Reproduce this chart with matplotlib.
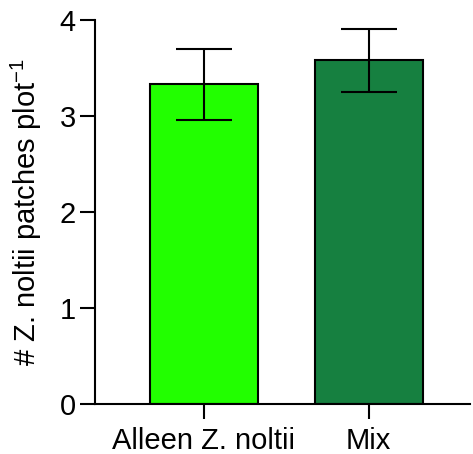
import matplotlib
matplotlib.use('Agg')
import matplotlib.pyplot as plt

plt.rcParams['font.family'] = ['Liberation Sans', 'DejaVu Sans']
plt.rcParams['mathtext.fontset'] = 'custom'
plt.rcParams['mathtext.rm'] = 'Liberation Sans'

groups = ['Alleen Z. noltii', 'Mix']
means = [3.33, 3.58]
errs = [0.37, 0.33]
colors = ['#22ff00', '#168040']

fig = plt.figure(figsize=(4.73, 4.54), dpi=100)
ax = fig.add_axes([95 / 473, 1 - 404 / 454, 375 / 473, 384 / 454])

x = range(len(groups))
ax.bar(x, means, width=0.655, color=colors, edgecolor='black', linewidth=1.5, zorder=2)
ax.errorbar(x, means, yerr=errs, fmt='none', ecolor='black', elinewidth=1.5,
            capsize=20, capthick=1.5, zorder=3)

ax.set_xlim(-0.661, 1.614)
ax.set_ylim(0, 4)
ax.set_yticks([0, 1, 2, 3, 4])
ax.set_xticks(list(x))
ax.set_xticklabels(groups)
ax.set_ylabel('# Z. noltii patches plot$^{\\mathregular{-1}}$', fontsize=21, labelpad=11)

for s in ('top', 'right'):
    ax.spines[s].set_visible(False)
for s in ('left', 'bottom'):
    ax.spines[s].set_linewidth(1.5)
ax.tick_params(axis='both', labelsize=21, width=1.5, length=10.8, pad=3)
ax.tick_params(axis='x', pad=6)

fig.savefig('out.png', dpi=100)
